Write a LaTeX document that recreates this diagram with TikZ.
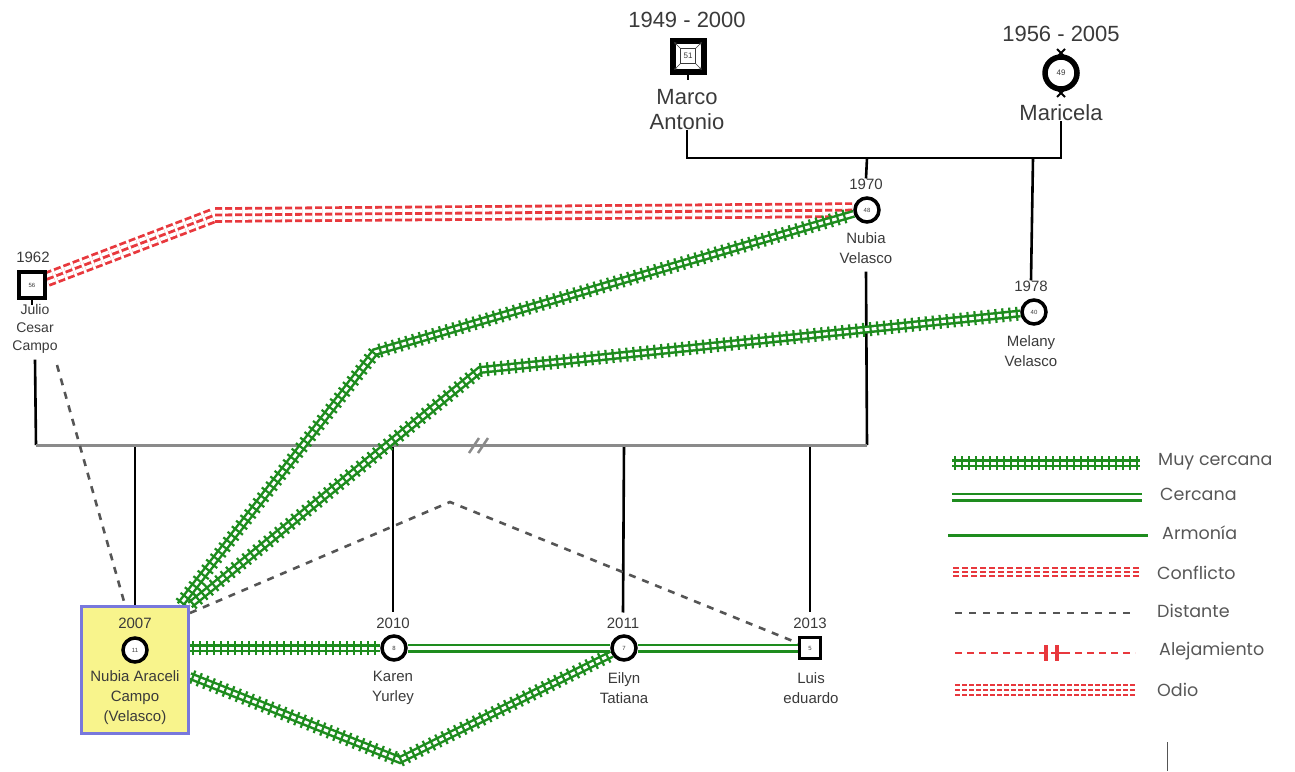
\documentclass[tikz,border=0pt]{standalone}
\usepackage{fontspec}
\setmainfont{Liberation Sans}
\newfontfamily\legfont{Poppins}
\usetikzlibrary{decorations.markings,arrows.meta,calc}
\definecolor{txt}{HTML}{3A3A3A}
\definecolor{grn}{HTML}{1E8C1E}
\definecolor{rd}{HTML}{E8383D}
\definecolor{dgray}{HTML}{555555}
\definecolor{sgray}{HTML}{8A8A8A}
\definecolor{boxy}{HTML}{F8F48C}
\definecolor{boxb}{HTML}{7878DC}
\pgfdeclarelayer{background}
\pgfsetlayers{background,main}
\tikzset{
  famline/.style={line width=2.6pt, draw=black},
  sibline/.style={line width=3pt, draw=sgray},
  fem/.style={circle, draw=black, line width=3.5pt, fill=white, minimum size=24pt, inner sep=0pt, font=\fontsize{6}{6}\selectfont, text=txt},
  mal/.style={rectangle, draw=black, line width=3pt, fill=white, minimum size=22pt, inner sep=0pt, font=\fontsize{6}{6}\selectfont, text=txt},
  lbl/.style={font=\fontsize{15}{20}\selectfont, text=txt, align=center, inner sep=0pt},
  biglbl/.style={font=\fontsize{22}{25}\selectfont, text=txt, align=center, inner sep=0pt},
  leglbl/.style={font=\legfont\fontsize{17.5}{19}\selectfont, text=txt!85, anchor=west, inner sep=0pt},
  vclose/.style={preaction={draw=grn, line width=2.5pt, double=white, double distance=3pt},
     postaction={decorate, decoration={markings, mark=between positions 3pt and -3pt step 7pt with {\draw[grn, line width=2.2pt] (0pt,-7pt) -- (0pt,7pt);}}}},
  closel/.style={draw=grn, line width=2.5pt, double=white, double distance=4pt},
  harm/.style={draw=grn, line width=3pt},
  confl/.style={preaction={draw=rd, line width=2.8pt, dash pattern=on 7pt off 3pt, double=white, double distance=10pt}, draw=rd, line width=2.8pt, dash pattern=on 7pt off 3pt},
  conflleg/.style={preaction={draw=rd, line width=2pt, dash pattern=on 6pt off 3pt, double=white, double distance=5.5pt}, draw=rd, line width=2pt, dash pattern=on 6pt off 3pt},
  odioleg/.style={preaction={draw=rd, line width=2pt, dash pattern=on 5pt off 2pt, double=white, double distance=8pt}, draw=rd, line width=2pt, dash pattern=on 5pt off 2pt},
  dist/.style={draw=dgray, line width=2.6pt, dash pattern=on 7pt off 7pt},
  alej/.style={draw=rd, line width=1.8pt, dash pattern=on 7pt off 5pt},
}
\begin{document}
\begin{tikzpicture}[x=1pt,y=-1pt]
\useasboundingbox (0,0) rectangle (1295,771);

% ---------- parents ----------
\node[mal, minimum size=31pt, line width=6pt] (marco) at (688,56) {};
\node[draw=txt, line width=0.6pt, fill=white, minimum size=15pt, inner sep=0pt, font=\fontsize{8}{8}\selectfont, text=txt] (marcoage) at (marco.center) {51};
\foreach \c in {north east, north west, south east, south west}
  \draw[line width=0.5pt, txt, -{Stealth[length=3pt,width=3pt]}] (marcoage.\c) -- ($(marco.center)!0.75!(marco.\c)$);
\draw[line width=2.6pt] (marco.south) -- ++(0,5);
\node[biglbl] (marcoyr) at (687,20) {1949 - 2000};
\node[biglbl] (marconame) at (687,110) {Marco\\Antonio};

\node[fem, minimum size=32pt, line width=5.5pt, font=\fontsize{8}{8}\selectfont] (maricela) at (1061,73) {49};
\draw[line width=1.8pt] (1057,49) -- (1065,57) (1065,49) -- (1057,57);
\draw[line width=1.8pt] (1057,89) -- (1065,97) (1065,89) -- (1057,97);
\node[biglbl] (maricelayr) at (1061,34) {1956 - 2005};
\node[biglbl] (maricelaname) at (1061,113) {Maricela};

% ---------- second generation ----------
\node[fem] (nubiav) at (867,210) {48};
\node[lbl] (nvyr) at (866,184) {1970};
\node[lbl] (nvname) at (866,248) {Nubia\\Velasco};

\node[fem] (melany) at (1034,312) {40};
\node[lbl] (melyr) at (1031,286) {1978};
\node[lbl] (melname) at (1031,351) {Melany\\Velasco};

\node[mal, minimum size=26pt, line width=4pt] (julio) at (32,285) {56};
\draw[line width=2.6pt] (julio.south) -- ++(0,5);
\node[lbl] (julioyr) at (33,257) {1962};
\node[lbl, font=\fontsize{14}{18}\selectfont] (julioname) at (35,329) {Julio\\Cesar\\Campo};

% ---------- children ----------
\node[draw=boxb, fill=boxy, line width=3pt, minimum width=107pt, minimum height=127pt, inner sep=0pt] (araceli) at (135,670) {};
\node[fem] (aracelic) at (135,650) {11};
\node[lbl] (araceliyr) at (135,623) {2007};
\node[lbl] (aracelname) at (135,698) {Nubia Araceli\\Campo\\(Velasco)};

\node[fem] (karen) at (394,648) {8};
\node[lbl] (karenyr) at (393,623) {2010};
\node[lbl] (karenname) at (393,688) {Karen\\Yurley};

\node[fem] (eilyn) at (624,648) {7};
\node[lbl] (eilynyr) at (623,623) {2011};
\node[lbl] (eilynname) at (624,688) {Eilyn\\Tatiana};

\node[mal, minimum size=21pt] (luis) at (810,648) {5};
\node[lbl] (luisyr) at (810,623) {2013};
\node[lbl] (luisname) at (811,688) {Luis\\eduardo};

% ---------- legend ----------
\coordinate (l1a) at (952,463); \coordinate (l1b) at (1140,463);
\coordinate (l2a) at (952,497); \coordinate (l2b) at (1142,497);
\coordinate (l3a) at (948,535); \coordinate (l3b) at (1148,535);
\coordinate (l4a) at (953,572); \coordinate (l4b) at (1140,572);
\coordinate (l5a) at (955,613); \coordinate (l5b) at (1135,613);
\coordinate (l6a) at (955,653); \coordinate (l6b) at (1135,653);
\coordinate (l7a) at (955,690); \coordinate (l7b) at (1135,690);
\path[vclose] (l1a) -- (l1b);
\draw[closel] (l2a) -- (l2b);
\draw[harm] (l3a) -- (l3b);
\draw[conflleg] (l4a) -- (l4b);
\draw[dist] (l5a) -- (l5b);
\draw[alej] (l6a) -- (l6b);
\draw[rd, line width=3.5pt] (1046,645) -- (1046,661) (1057,645) -- (1057,661);
\draw[rd, line width=1.8pt] (1057,653) -- (1065,653);
\draw[odioleg] (l7a) -- (l7b);
\node[leglbl] (leg1) at (1158,462) {Muy cercana};
\node[leglbl] (leg2) at (1160,494) {Cercana};
\node[leglbl] (leg3) at (1162,533) {Armonía};
\node[leglbl] (leg4) at (1157,573) {Conflicto};
\node[leglbl] (leg5) at (1157,611) {Distante};
\node[leglbl] (leg6) at (1159,651) {Alejamiento};
\node[leglbl] (leg7) at (1157,690) {Odio};

\draw[line width=1pt, dgray] (1167,742) -- (1167,771);

% ---------- connectors ----------
\begin{pgfonlayer}{background}
\coordinate (m1) at (687,158); \coordinate (m2) at (1061,158);
\coordinate (c1) at (867,158); \coordinate (c2) at (1033,158);
\draw[famline] (marconame.south) -- (m1) -- (m2) -- (maricelaname.south);
\draw[famline] (c1) -- (nvyr.north);
\draw[famline] (c2) -- (melyr.north);
\coordinate (s1) at (36,445); \coordinate (s2) at (867,445);
\draw[famline] ([yshift=-6pt]julioname.south) -- (s1);
\draw[famline] ([yshift=-8pt]nvname.south) -- (s2);
\coordinate (k1) at (135,445); \coordinate (k2) at (393,445);
\coordinate (k3) at (624,445); \coordinate (k4) at (810,445);
\draw[famline] (k1) -- (araceli.north);
\draw[famline] (k2) -- ([yshift=5pt]karenyr.north);
\draw[famline] (k3) -- ([yshift=5pt]eilynyr.north);
\draw[famline] (k4) -- ([yshift=5pt]luisyr.north);
\draw[sibline] (s1) -- (s2);
\draw[sgray, line width=2.5pt] (469,453) -- (479,438) (478,453) -- (488,438);

\coordinate (r1) at (215,215);
\draw[confl] (julio) -- (r1) -- (nubiav);

\coordinate (dj) at (57,365); \coordinate (d1) at (450,502);
\draw[dist] (dj) -- ([xshift=-10pt]araceli.north);
\draw[dist] ([yshift=-8pt]araceli.north east) -- (d1) -- (luis);

\coordinate (b1) at (375,352); \coordinate (b2) at (480,370); \coordinate (b3) at (400,760);
\path[vclose] ([xshift=-10pt]araceli.north east) -- (b1) -- (nubiav);
\path[vclose] (araceli.north east) -- (b2) -- (melany);
\path[vclose] (araceli.east |- karen) -- (karen);
\path[vclose] ([yshift=-6pt]araceli.east) -- (b3) -- (eilyn);
\draw[closel] (karen) -- (eilyn);
\draw[closel] (eilyn) -- (luis);
\end{pgfonlayer}
\end{tikzpicture}
\end{document}
